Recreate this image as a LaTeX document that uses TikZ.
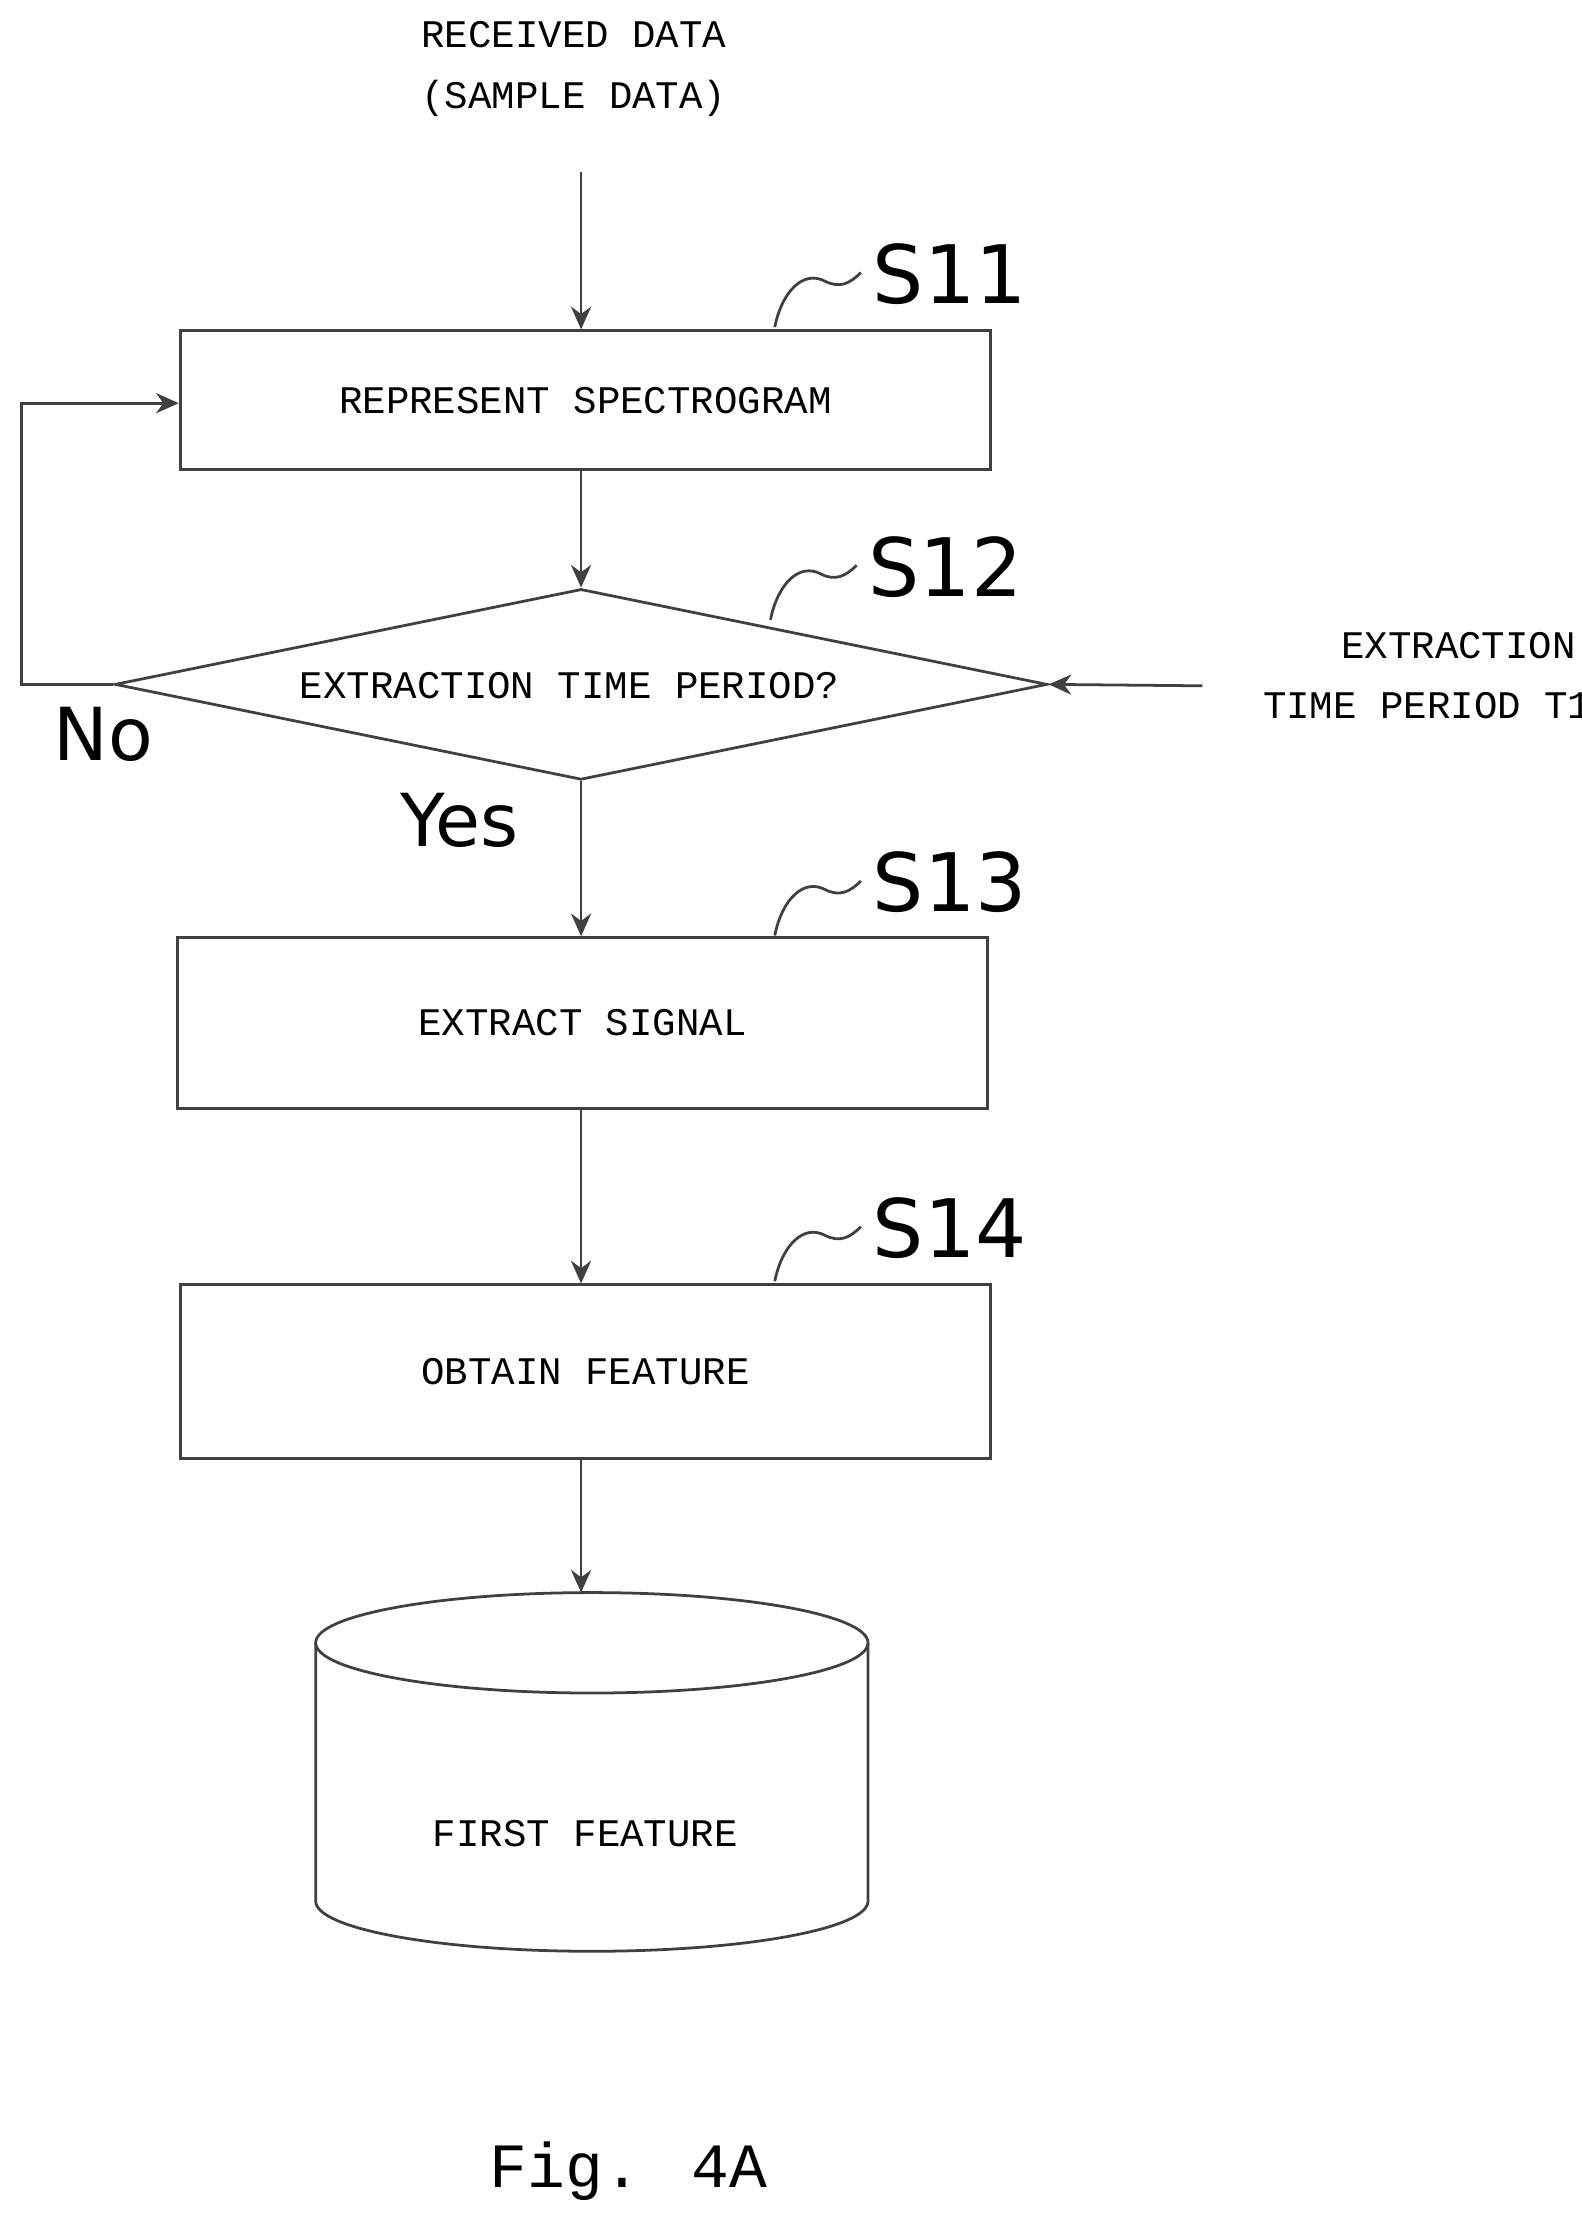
\documentclass[tikz,border=0pt]{standalone}
\usepackage{fontspec}
\setmainfont{Liberation Mono}
\newfontfamily\lblfont{DejaVu Sans}
\usetikzlibrary{arrows.meta,shapes.geometric}
\begin{document}
\begin{tikzpicture}[x=0.02cm,y=-0.02cm,
  ln/.style={draw=black!75,line width=1.1pt},
  arr/.style={ln,-{Stealth[length=9pt,width=8pt]}},
  txt/.style={font=\fontsize{15.5}{19}\selectfont,align=center,inner sep=0pt},
  stp/.style={font=\lblfont\fontsize{32}{34}\selectfont,inner sep=0pt},
  yn/.style={font=\lblfont\fontsize{29}{32}\selectfont,inner sep=0pt}]
\useasboundingbox (0,0) rectangle (1102,1548);
\node[txt] (in) at (400,48) {RECEIVED DATA\\[5pt](SAMPLE DATA)};
\coordinate (inS) at (405,120);
\node[ln,minimum width=11.3cm,minimum height=1.94cm,txt] (s11) at (408,279) {REPRESENT SPECTROGRAM};
\node[ln,diamond,aspect=4.8,minimum width=13cm,minimum height=2.66cm,inner sep=0pt] (s12) at (405,477) {};
\node[txt] at (397,478) {EXTRACTION TIME PERIOD?};
\node[ln,minimum width=11.3cm,minimum height=2.38cm,txt] (s13) at (406,713) {EXTRACT SIGNAL};
\node[ln,minimum width=11.3cm,minimum height=2.42cm,txt] (s14) at (408,956) {OBTAIN FEATURE};
\node[txt,anchor=west] (t1) at (880,471) {\hspace*{1.6em}EXTRACTION\\[5pt]TIME PERIOD T1};
\coordinate (t1S) at (838,478);
% cylinder
\coordinate (cyl) at (405,1110);
\draw[ln] (220,1145) arc[x radius=192.5,y radius=-35,start angle=180,end angle=-180];
\draw[ln] (220,1145) -- (220,1325) arc[x radius=192.5,y radius=-35,start angle=180,end angle=360] -- (605,1145);
\node[txt] (ff) at (408,1278) {FIRST FEATURE};
% arrows
\draw[arr] (inS) -- (s11.north -| inS);
\draw[arr] (s11.south -| inS) -- (s12.north);
\draw[arr] (s12.south) -- (s13.north -| s12.south);
\draw[arr] (s13.south -| s12.south) -- (s14.north -| s12.south);
\draw[arr] (s14.south -| s12.south) -- (cyl);
\draw[arr] (t1S) -- (s12.east);
\draw[arr] (s12.west) -- (15,477) -- (15,281) -- (s11.west |- 0,281);
% labels
\node[yn] at (72,512) {No};
\node[yn] at (320,572) {Yes};
\foreach \y/\l/\x in {228/S11/540, 432/S12/537, 652/S13/540, 893/S14/540}{
  \draw[ln] (\x,\y) .. controls (\x+5,\y-25) and (\x+20,\y-40) .. (\x+35,\y-32) .. controls (\x+45,\y-27) and (\x+52,\y-30) .. (\x+60,\y-38);
  \node[stp,anchor=west] at (\x+68,\y-37) {\l};
}
\node[font=\fontsize{25}{28}\selectfont] at (438,1513) {Fig. 4A};
\end{tikzpicture}
\end{document}
